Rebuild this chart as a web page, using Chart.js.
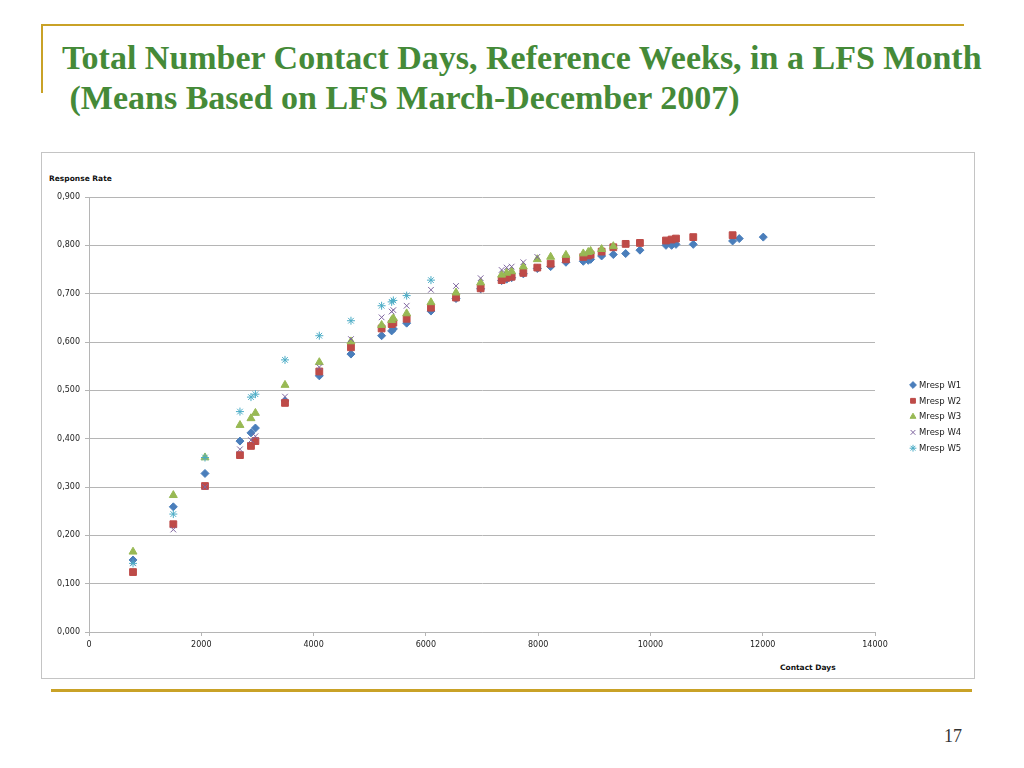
<!DOCTYPE html>
<html><head><meta charset="utf-8">
<script src="https://cdn.jsdelivr.net/npm/chart.js@4.4.0/dist/chart.umd.min.js"></script>
<style>
html,body{margin:0;padding:0;background:#fff;width:1024px;height:768px;overflow:hidden;position:relative;}
.gold{position:absolute;background:#c9a227;}
#box{position:absolute;left:41px;top:152px;width:932px;height:525px;border:1px solid #c4c4c4;}
.title{position:absolute;font-family:"Liberation Serif","Times New Roman",serif;font-weight:bold;font-size:34px;line-height:34px;color:#458a38;white-space:nowrap;}
.lbl{position:absolute;font-family:"DejaVu Sans",sans-serif;font-weight:bold;font-size:7.5px;line-height:10px;color:#111;white-space:nowrap;}
#page{position:absolute;left:900px;width:62px;text-align:right;top:726px;font-family:"Liberation Serif",serif;font-size:18px;line-height:20px;color:#333;}
#c{position:absolute;left:0;top:0;}
</style>
</head><body>
<div class="gold" style="left:42px;top:24px;width:922px;height:2px;"></div>
<div class="gold" style="left:41px;top:24px;width:2px;height:69px;"></div>
<div class="title" style="left:62px;top:41px;">Total Number Contact Days, Reference Weeks, in a LFS Month</div>
<div class="title" style="left:61px;top:81px;">&nbsp;(Means Based on LFS March-December 2007)</div>
<div id="box"></div>
<div class="lbl" style="left:49px;top:174px;">Response Rate</div>
<div class="lbl" style="left:780px;top:663px;">Contact Days</div>
<div class="gold" style="left:51px;top:689px;width:921px;height:3px;"></div>
<div id="page">17</div>
<canvas id="c" width="1024" height="768"></canvas>
<script>
// Contact days (x) shared by the columns of points
const contactDays = [784, 1502, 2066, 2689, 2885, 2964, 3491, 4102, 4666, 5212, 5391, 5421, 5658, 6091, 6537, 6976, 7350, 7439, 7528, 7736, 7985, 8223, 8495, 8804, 8893, 8935, 9131, 9339, 9559, 9813, 10277, 10377, 10455, 10763, 11464, 11582, 12010];
const mrespW1 = [0.149, 0.259, 0.328, 0.395, 0.412, 0.422, 0.478, 0.530, 0.575, 0.613, 0.623, 0.627, 0.639, 0.664, 0.690, 0.710, 0.727, 0.730, 0.733, 0.741, 0.752, 0.756, 0.765, 0.767, 0.769, 0.771, 0.778, 0.781, 0.783, 0.790, 0.800, 0.800, 0.802, 0.802, 0.809, 0.814, 0.817];
const mrespW2 = [0.124, 0.223, 0.302, 0.366, 0.385, 0.395, 0.474, 0.539, 0.589, 0.628, 0.637, 0.640, 0.648, 0.671, 0.692, 0.711, 0.728, 0.733, 0.735, 0.743, 0.754, 0.762, 0.771, 0.776, 0.779, 0.781, 0.787, 0.796, 0.803, 0.805, 0.810, 0.812, 0.814, 0.817, 0.821, null, null];
const mrespW3 = [0.166, 0.283, 0.361, 0.428, 0.442, 0.453, 0.511, 0.558, 0.601, 0.635, 0.645, 0.649, 0.659, 0.682, 0.702, 0.723, 0.739, 0.743, 0.746, 0.756, 0.771, 0.776, 0.780, 0.783, 0.786, 0.788, 0.792, 0.798, null, null, null, null, null, null, null, null, null];
const mrespW4 = [0.143, 0.212, 0.300, 0.378, 0.397, 0.405, 0.487, 0.548, 0.606, 0.651, 0.663, 0.666, 0.675, 0.708, 0.716, 0.732, 0.749, 0.754, 0.756, 0.765, 0.776, null, null, null, null, null, null, null, null, null, null, null, null, null, null, null, null];
const mrespW5 = [0.142, 0.244, 0.361, 0.456, 0.486, 0.492, 0.563, 0.613, 0.644, 0.675, 0.683, 0.686, 0.696, 0.728, null, null, null, null, null, null, null, null, null, null, null, null, null, null, null, null, null, null, null, null, null, null, null];
const seriesNames = ['Mresp W1', 'Mresp W2', 'Mresp W3', 'Mresp W4', 'Mresp W5'];
const yTicks = [0, 0.1, 0.2, 0.3, 0.4, 0.5, 0.6, 0.7, 0.8, 0.9];
const xTicks = [0, 2000, 4000, 6000, 8000, 10000, 12000, 14000];

function pts(vals) {
  const out = [];
  vals.forEach((v, i) => { if (v !== null) out.push({x: contactDays[i], y: v}); });
  return out;
}
const styles = [
  {pointStyle: 'rectRot', radius: 4, bg: '#4a7ebb', bc: '#4a7ebb', bw: 1},
  {pointStyle: 'rect', radius: 4.8, bg: '#be4b48', bc: '#be4b48', bw: 1},
  {pointStyle: 'triangle', radius: 4.6, bg: '#98b954', bc: '#98b954', bw: 1},
  {pointStyle: 'crossRot', radius: 4, bg: '#7e649e', bc: '#7e649e', bw: 1},
  {pointStyle: 'star', radius: 4, bg: '#4bacc6', bc: '#4bacc6', bw: 1}
];
const allVals = [mrespW1, mrespW2, mrespW3, mrespW4, mrespW5];
const datasets = allVals.map((vals, i) => ({
  label: seriesNames[i],
  data: pts(vals),
  pointStyle: styles[i].pointStyle,
  pointRadius: styles[i].radius,
  pointBackgroundColor: styles[i].bg,
  pointBorderColor: styles[i].bc,
  pointBorderWidth: styles[i].bw,
  backgroundColor: styles[i].bg,
  borderColor: styles[i].bc,
  showLine: false,
  order: 5 - i
}));

const sideLegend = {
  id: 'sideLegend',
  afterDraw(chart) {
    const ctx = chart.ctx;
    chart.data.datasets.forEach((ds, i) => {
      const x = 913, y = 385 + i * 15.8;
      ctx.save();
      ctx.fillStyle = ds.pointBackgroundColor;
      ctx.strokeStyle = ds.pointBorderColor;
      ctx.lineWidth = 1;
      const r = Math.min(ds.pointRadius, 4) * 0.85;
      if (Chart.helpers && Chart.helpers.drawPoint) {
        Chart.helpers.drawPoint(ctx, {pointStyle: ds.pointStyle, radius: r, borderWidth: 1, rotation: 0}, x, y);
      }
      ctx.fillStyle = '#222';
      ctx.font = '8.5px "DejaVu Sans", sans-serif';
      ctx.textBaseline = 'middle';
      ctx.textAlign = 'left';
      ctx.fillText(ds.label, x + 6, y + 0.5);
      ctx.restore();
    });
  }
};

new Chart(document.getElementById('c'), {
  type: 'scatter',
  data: {datasets},
  options: {
    responsive: false,
    animation: false,
    layout: {padding: {left: 41, top: 197, right: 149, bottom: 90}},
    plugins: {legend: {display: false}, tooltip: {enabled: false}, title: {display: false}},
    scales: {
      x: {
        type: 'linear', min: 0, max: 14000,
        afterFit: s => { s.height = 46; },
        afterBuildTicks: s => { s.ticks = xTicks.map(v => ({value: v})); },
        ticks: {callback: v => String(v), font: {family: '"DejaVu Sans", sans-serif', size: 8}, color: '#222', padding: 4, maxRotation: 0},
        grid: {drawOnChartArea: false, drawTicks: true, tickLength: 4, color: '#b5b5b5'},
        border: {color: '#b5b5b5'}
      },
      y: {
        type: 'linear', min: 0, max: 0.9,
        afterFit: s => { s.width = 48; },
        afterBuildTicks: s => { s.ticks = yTicks.map(v => ({value: v})); },
        ticks: {callback: v => Number(v).toFixed(3).replace('.', ','), font: {family: '"DejaVu Sans", sans-serif', size: 8}, color: '#222', padding: 5},
        grid: {color: '#b5b5b5', tickLength: 4},
        border: {color: '#b5b5b5'}
      }
    }
  },
  plugins: [sideLegend]
});
</script>
</body></html>
